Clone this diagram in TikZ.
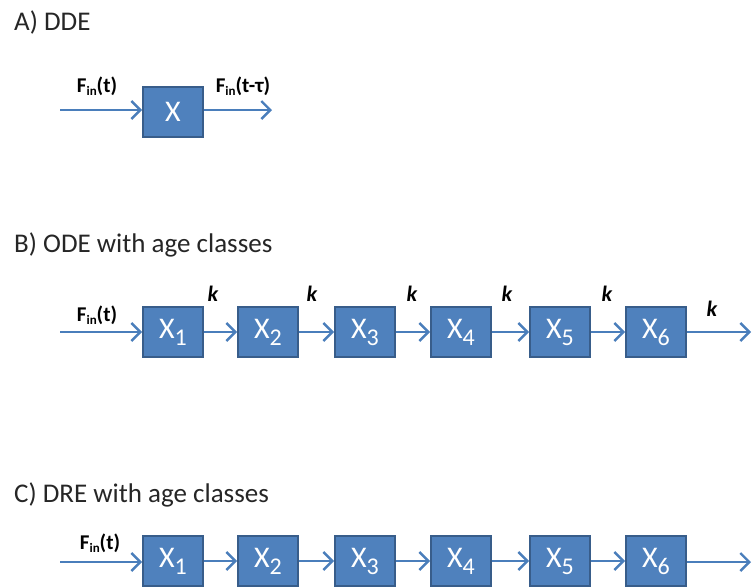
\documentclass[tikz,border=0pt]{standalone}
\usepackage{fontspec}
\setmainfont{Carlito}
\usetikzlibrary{arrows.meta}
\definecolor{boxfill}{HTML}{4F81BD}
\definecolor{boxline}{HTML}{385D8A}
\definecolor{arr}{HTML}{4A7EBB}
\definecolor{titlegray}{HTML}{262626}
\newcommand{\Fin}{F\raisebox{-3pt}{\fontsize{13}{13}\selectfont in}}
\newcommand{\Xs}[1]{X\raisebox{-7pt}{\fontsize{24}{24}\selectfont #1}}
\tikzset{
  box/.style={draw=boxline, fill=boxfill, line width=1.8pt, minimum width=60pt, minimum height=50pt, inner sep=0pt, text=white, font=\fontsize{30}{30}\selectfont},
  flow/.style={draw=arr, line width=2.8pt, -{Straight Barb[length=9pt,width=18pt,line width=2.4pt]}},
  title/.style={anchor=west, text=titlegray, font=\fontsize{27}{27}\selectfont, inner sep=0pt},
  flab/.style={font=\bfseries\fontsize{21}{21}\selectfont, inner sep=0pt},
  klab/.style={font=\bfseries\itshape\fontsize{22}{22}\selectfont, inner sep=0pt}
}
\begin{document}
\begin{tikzpicture}[x=1pt,y=-1pt]
\useasboundingbox (0,0) rectangle (752,587);
% A
\node[title] (tA) at (14,22) {A) DDE};
\node[box] (X) at (173,112) {X};
\coordinate (ainA) at (60,110);
\coordinate (aoutA) at (272,110);
\draw[flow] (ainA) -- (X.west|-ainA);
\draw[flow] (X.east|-aoutA) -- (aoutA);
\node[flab] (lA1) at (97,86) {\Fin(t)};
\node[flab] (lA2) at (243,86) {\Fin(t-τ)};
% B
\node[title] (tB) at (14,245) {B) ODE with age classes};
\foreach \i/\x in {1/173,2/268,3/365,4/461,5/560,6/656}{
  \node[box] (b\i) at (\x,332) {\Xs{\i}};
}
\coordinate (binB) at (60,332);
\coordinate (boutB) at (751,332);
\draw[flow] (binB) -- (b1.west);
\foreach \a/\b in {1/2,2/3,3/4,4/5,5/6}{
  \draw[flow] (b\a.east) -- (b\b.west);
}
\draw[flow] (b6.east) -- (boutB);
\node[flab] (lB1) at (97,315) {\Fin(t)};
\foreach \x [count=\n] in {213,312,412,507,607}{
  \node[klab] (k\n) at (\x,294) {k};
}
\node[klab] (k6) at (712,309) {k};
% C
\node[title] (tC) at (14,495) {C) DRE with age classes};
\foreach \i/\x in {1/173,2/268,3/365,4/461,5/560,6/656}{
  \node[box] (c\i) at (\x,561) {\Xs{\i}};
}
\coordinate (cinC) at (60,562);
\coordinate (coutC) at (751,562);
\draw[flow] (cinC) -- (c1.west|-cinC);
\foreach \a/\b in {1/2,2/3,3/4,4/5,5/6}{
  \draw[flow] (c\a.east) -- (c\b.west);
}
\draw[flow] (c6.east|-coutC) -- (coutC);
\node[flab] (lC1) at (100,543) {\Fin(t)};
\end{tikzpicture}
\end{document}
